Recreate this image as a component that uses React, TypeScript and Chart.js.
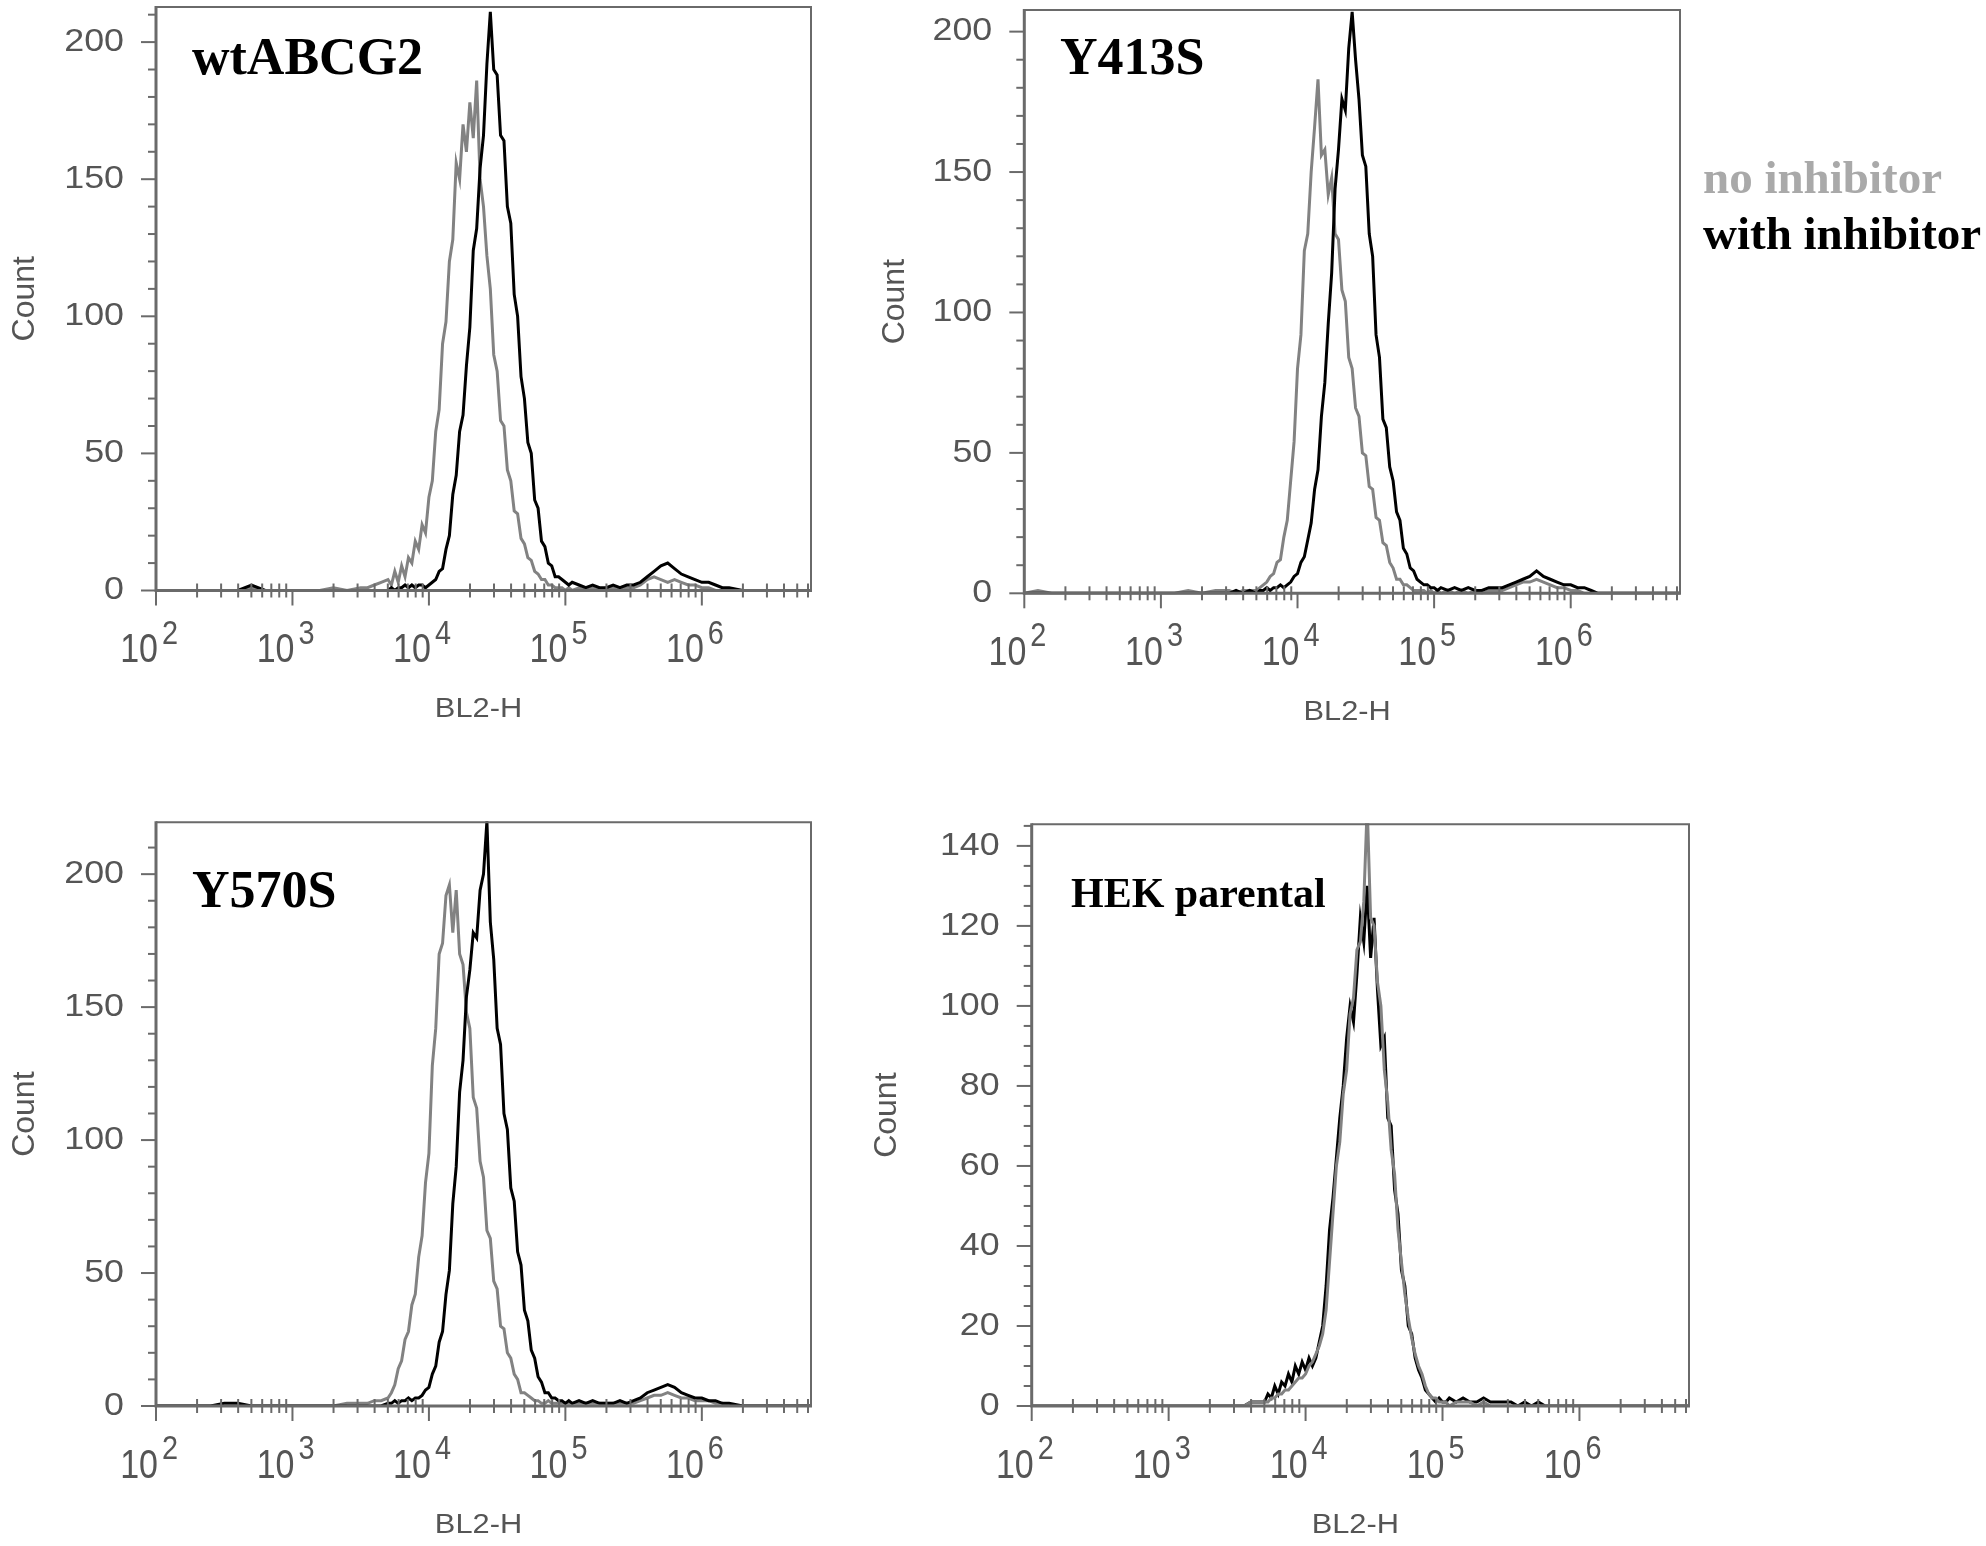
import React, { useEffect, useRef } from "react";
import { Chart, registerables } from "chart.js";

Chart.register(...registerables);

// ---------- DATA ----------
// histogram bin positions (log10 of BL2-H)
const BIN_EXP = [
  2.0, 2.1, 2.2, 2.3, 2.4, 2.5, 2.6, 2.7, 2.8, 2.9, 3.0, 3.1, 3.2, 3.3, 3.4, 3.5, 3.55, 3.6, 3.65,
  3.7, 3.725, 3.75, 3.775, 3.8, 3.825, 3.85, 3.875, 3.9, 3.925,
  3.95, 3.975, 4.0, 4.025, 4.05, 4.075, 4.1, 4.125, 4.15, 4.175,
  4.2, 4.225, 4.25, 4.275, 4.3, 4.325, 4.35, 4.375, 4.4, 4.425,
  4.45, 4.475, 4.5, 4.525, 4.55, 4.575, 4.6, 4.625, 4.65, 4.675,
  4.7, 4.725, 4.75, 4.775, 4.8, 4.825, 4.85, 4.875, 4.9, 4.925,
  4.95, 4.975, 5.0, 5.025, 5.05,
  5.1, 5.15, 5.2, 5.25, 5.3, 5.35, 5.4, 5.45, 5.5, 5.55,
  5.6, 5.65, 5.7, 5.75, 5.8, 5.85, 5.9, 5.95, 6.0, 6.05,
  6.1, 6.15, 6.2, 6.3, 6.4, 6.5, 6.6, 6.7, 6.8,
];

const WT_NO = [
  0, 0, 0, 0, 0, 0, 0, 1, 0, 0, 0, 0, 0, 1, 0, 1, 1, 2, 3,
  4, 2, 7, 3, 9, 5, 12, 10, 18, 15,
  24, 21, 34, 40, 58, 66, 90, 98, 120, 128,
  156, 150, 170, 160, 178, 165, 186, 150, 140, 122,
  110, 86, 80, 62, 60, 44, 40, 29, 28, 19,
  17, 12, 11, 7, 6, 4, 4, 2, 2, 1,
  1, 1, 0, 1, 0,
  1, 0, 1, 0, 1, 1, 0, 1, 1, 2,
  4, 5, 4, 3, 4, 3, 2, 2, 1, 1,
  0, 0, 0, 0, 0, 0, 0, 0, 0,
];
const WT_WITH = [
  0, 0, 0, 0, 0, 0, 0, 2, 0, 0, 0, 0, 0, 0, 0, 0, 0, 0, 0,
  0, 1, 0, 1, 1, 2, 1, 2, 1, 2,
  2, 1, 2, 3, 4, 7, 8, 15, 20, 35,
  42, 58, 64, 82, 96, 124, 132, 154, 166, 192,
  211, 190, 188, 166, 164, 140, 134, 108, 100, 78,
  70, 54, 50, 33, 30, 18, 16, 10, 9, 5,
  5, 4, 3, 2, 3,
  2, 1, 2, 1, 1, 2, 1, 2, 2, 3,
  5, 7, 9, 10, 8, 6, 5, 4, 3, 3,
  2, 1, 1, 0, 0, 0, 0, 0, 0,
];

const Y413S_NO = [
  0, 1, 0, 0, 0, 0, 0, 0, 0, 0, 0, 0, 1, 0, 1, 1, 0, 1, 1,
  1, 2, 3, 4, 6, 7, 11, 12, 20, 26,
  40, 54, 80, 92, 122, 128, 150, 166, 183, 156,
  158, 142, 148, 128, 126, 108, 104, 84, 80, 66,
  63, 50, 49, 38, 37, 27, 26, 18, 17, 11,
  9, 5, 5, 3, 3, 2, 1, 1, 1, 1,
  0, 1, 0, 1, 0,
  1, 0, 1, 0, 1, 0, 1, 1, 1, 2,
  3, 4, 4, 5, 4, 3, 2, 2, 1, 1,
  0, 0, 0, 0, 0, 0, 0, 0, 0,
];
const Y413S_WITH = [
  0, 0, 0, 0, 0, 0, 0, 0, 0, 0, 0, 0, 0, 0, 0, 0, 1, 0, 1,
  0, 1, 1, 2, 1, 2, 2, 3, 2, 3,
  4, 6, 7, 11, 13, 19, 25, 37, 44, 63,
  75, 96, 114, 144, 158, 176, 172, 194, 207, 190,
  176, 156, 152, 128, 120, 92, 84, 62, 59, 45,
  40, 29, 26, 16, 14, 9, 8, 5, 4, 3,
  3, 2, 2, 1, 2,
  1, 2, 1, 2, 1, 1, 2, 2, 2, 3,
  4, 5, 6, 8, 6, 5, 4, 3, 3, 2,
  2, 1, 0, 0, 0, 0, 0, 0, 0,
];

const Y570S_NO = [
  0, 0, 0, 0, 0, 0, 0, 0, 0, 0, 0, 0, 0, 0, 1, 1, 1, 2, 2,
  3, 5, 8, 14, 17, 25, 28, 38, 42, 56,
  64, 84, 95, 128, 142, 170, 174, 192, 196, 178,
  194, 170, 166, 148, 142, 116, 112, 92, 86, 66,
  63, 47, 44, 30, 29, 20, 18, 12, 10, 5,
  5, 4, 3, 2, 2, 1, 1, 2, 1, 1,
  1, 1, 1, 1, 1,
  1, 1, 1, 1, 1, 1, 1, 1, 1, 2,
  3, 4, 4, 5, 4, 3, 3, 2, 2, 2,
  1, 1, 0, 0, 0, 0, 0, 0, 0,
];
const Y570S_WITH = [
  0, 0, 0, 0, 0, 1, 1, 0, 0, 0, 0, 0, 0, 0, 0, 0, 0, 0, 0,
  1, 1, 2, 1, 2, 2, 3, 2, 3, 3,
  4, 6, 7, 12, 15, 24, 28, 42, 51, 76,
  90, 118, 130, 154, 164, 178, 176, 194, 200, 220,
  182, 168, 142, 136, 110, 104, 82, 77, 58, 53,
  36, 32, 21, 18, 11, 9, 5, 5, 3, 3,
  2, 2, 1, 2, 1,
  2, 1, 2, 1, 1, 1, 2, 1, 2, 3,
  5, 6, 7, 8, 7, 5, 4, 3, 3, 2,
  2, 1, 1, 0, 0, 0, 0, 0, 0,
];

const HEK_NO = [
  0, 0, 0, 0, 0, 0, 0, 0, 0, 0, 0, 0, 0, 0, 0, 0, 0, 1, 1,
  1, 1, 2, 2, 3, 3, 4, 4, 5, 6,
  7, 7, 8, 10, 11, 13, 15, 18, 24, 36,
  48, 60, 66, 78, 84, 98, 102, 114, 116, 126,
  150, 122, 120, 106, 100, 84, 76, 64, 58, 44,
  36, 28, 22, 17, 13, 10, 8, 5, 3, 2,
  2, 1, 1, 1, 0,
  1, 1, 1, 0, 1, 0, 0, 0, 0, 0,
  0, 0, 0, 0, 0, 0, 0, 0, 0, 0,
  0, 0, 0, 0, 0, 0, 0, 0, 0,
];
const HEK_WITH = [
  0, 0, 0, 0, 0, 0, 0, 0, 0, 0, 0, 0, 0, 0, 0, 0, 0, 1, 1,
  1, 3, 2, 5, 3, 6, 5, 8, 6, 10,
  8, 11, 9, 12, 10, 12, 16, 20, 30, 44,
  52, 62, 72, 80, 92, 100, 96, 108, 122, 116,
  130, 112, 122, 104, 90, 92, 72, 70, 54, 48,
  34, 30, 20, 18, 12, 9, 7, 4, 3, 2,
  1, 2, 1, 1, 2,
  1, 2, 1, 1, 2, 1, 1, 1, 1, 0,
  1, 0, 1, 0, 0, 0, 0, 0, 0, 0,
  0, 0, 0, 0, 0, 0, 0, 0, 0,
];

const X_TICK_EXP = [2, 3, 4, 5, 6];
const X_MAX_EXP = 6.8;
const Y_TICKS_200 = [0, 50, 100, 150, 200];
const Y_TICKS_140 = [0, 20, 40, 60, 80, 100, 120, 140];
const Y_LABEL = "Count";
const X_LABEL = "BL2-H";
const LEGEND_LABELS = ["no inhibitor", "with inhibitor"];

// ---------- STYLE ----------
const GRAY_LINE = "#828282";
const BLACK_LINE = "#000000";
const AXIS_COLOR = "#6a6a6a";
const TEXT_COLOR = "#555555";
const LEGEND_GRAY = "#a9a9a9";
const SANS = "'Liberation Sans', Arial, sans-serif";
const SERIF = "'Liberation Serif', 'Times New Roman', serif";

type Box = { left: number; top: number; width: number; height: number };
type Area = { left: number; top: number; right: number; bottom: number };

interface PanelDef {
  id: string;
  title: string;
  titleSize: number;
  titleX: number;
  titleY: number;
  canvas: Box;
  area: Area;
  yMax: number;
  yTicks: number[];
  yMinor: number;
  noInh: number[];
  withInh: number[];
  grayOnTop: boolean;
  countX: number;
  legend: boolean;
}

const PANELS: PanelDef[] = [
  {
    id: "p1", title: "wtABCG2", titleSize: 52, titleX: 192, titleY: 74,
    canvas: { left: 0, top: 0, width: 860, height: 760 },
    area: { left: 156, top: 7, right: 811, bottom: 590.5 },
    yMax: 212.8, yTicks: Y_TICKS_200, yMinor: 10,
    noInh: WT_NO, withInh: WT_WITH, grayOnTop: false, countX: 25, legend: false,
  },
  {
    id: "p2", title: "Y413S", titleSize: 52, titleX: 1060, titleY: 74,
    canvas: { left: 850, top: 0, width: 1136, height: 760 },
    area: { left: 1024.3, top: 10, right: 1680, bottom: 593.3 },
    yMax: 207.7, yTicks: Y_TICKS_200, yMinor: 10,
    noInh: Y413S_NO, withInh: Y413S_WITH, grayOnTop: false, countX: 895, legend: true,
  },
  {
    id: "p3", title: "Y570S", titleSize: 52, titleX: 192, titleY: 907,
    canvas: { left: 0, top: 770, width: 860, height: 776 },
    area: { left: 156, top: 822.3, right: 811, bottom: 1406 },
    yMax: 219.5, yTicks: Y_TICKS_200, yMinor: 10,
    noInh: Y570S_NO, withInh: Y570S_WITH, grayOnTop: false, countX: 25, legend: false,
  },
  {
    id: "p4", title: "HEK parental", titleSize: 42, titleX: 1071, titleY: 907,
    canvas: { left: 850, top: 770, width: 940, height: 776 },
    area: { left: 1031.7, top: 824.3, right: 1689, bottom: 1406 },
    yMax: 145.4, yTicks: Y_TICKS_140, yMinor: 5,
    noInh: HEK_NO, withInh: HEK_WITH, grayOnTop: true, countX: 887, legend: false,
  },
];

function drawText(
  ctx: CanvasRenderingContext2D, s: string, x: number, y: number, font: string,
  color: string, align: CanvasTextAlign, baseline: CanvasTextBaseline, sx = 1, rot = 0
) {
  ctx.save();
  ctx.translate(x, y);
  if (rot) ctx.rotate(rot);
  ctx.scale(sx, 1);
  ctx.font = font;
  ctx.fillStyle = color;
  ctx.textAlign = align;
  ctx.textBaseline = baseline;
  ctx.fillText(s, 0, 0);
  ctx.restore();
}

function makeDecor(def: PanelDef) {
  return {
    id: "decor_" + def.id,
    afterDatasetsDraw(chart: any) {
      const ctx: CanvasRenderingContext2D = chart.ctx;
      const a = chart.chartArea;
      const xs = chart.scales.x;
      const ys = chart.scales.y;
      const ox = def.canvas.left;
      const oy = def.canvas.top;
      ctx.save();
      ctx.lineCap = "butt";
      // frame
      ctx.strokeStyle = AXIS_COLOR;
      ctx.lineWidth = 2;
      ctx.beginPath();
      ctx.moveTo(a.left, a.top);
      ctx.lineTo(a.right, a.top);
      ctx.lineTo(a.right, a.bottom);
      ctx.stroke();
      ctx.lineWidth = 3;
      ctx.beginPath();
      ctx.moveTo(a.left, a.top - 1);
      ctx.lineTo(a.left, a.bottom);
      ctx.lineTo(a.right + 1, a.bottom);
      ctx.stroke();

      // y ticks
      ctx.lineWidth = 2;
      const major = def.yTicks[1] - def.yTicks[0];
      for (let v = 0; v <= def.yMax + 1e-6; v += def.yMinor) {
        const y = ys.getPixelForValue(v);
        const isMajor = Math.abs(v / major - Math.round(v / major)) < 1e-6;
        ctx.beginPath();
        ctx.moveTo(a.left - (isMajor ? 15 : 8), y);
        ctx.lineTo(a.left, y);
        ctx.stroke();
      }
      for (const t of def.yTicks) {
        const y = ys.getPixelForValue(t);
        drawText(ctx, String(t), a.left - 32, y, `32px ${SANS}`, TEXT_COLOR, "right", "middle", 1.12);
      }

      // x ticks
      for (const e of X_TICK_EXP) {
        const x = xs.getPixelForValue(Math.pow(10, e));
        ctx.beginPath();
        ctx.moveTo(x, a.bottom);
        ctx.lineTo(x, a.bottom + 15);
        ctx.stroke();
        for (let k = 2; k <= 9; k++) {
          const v = k * Math.pow(10, e);
          if (Math.log10(v) > X_MAX_EXP) break;
          const xm = xs.getPixelForValue(v);
          ctx.beginPath();
          ctx.moveTo(xm, a.bottom - 7);
          ctx.lineTo(xm, a.bottom + 7);
          ctx.stroke();
        }
        drawText(ctx, "10", x + 2, a.bottom + 71.5, `40px ${SANS}`, TEXT_COLOR, "right", "alphabetic", 0.85);
        drawText(ctx, String(e), x + 6, a.bottom + 53, `34px ${SANS}`, TEXT_COLOR, "left", "alphabetic", 0.85);
      }

      // axis titles
      const cx = (a.left + a.right) / 2 - 5;
      drawText(ctx, X_LABEL, cx, a.bottom + 126.5, `28px ${SANS}`, TEXT_COLOR, "center", "alphabetic", 1.1);
      const cy = (a.top + a.bottom) / 2;
      drawText(ctx, Y_LABEL, def.countX - ox, cy, `32px ${SANS}`, TEXT_COLOR, "center", "middle", 1, -Math.PI / 2);

      // panel title
      drawText(ctx, def.title, def.titleX - ox, def.titleY - oy, `bold ${def.titleSize}px ${SERIF}`, "#000", "left", "alphabetic");

      // legend
      if (def.legend) {
        drawText(ctx, LEGEND_LABELS[0], 1703 - ox, 193 - oy, `bold 47px ${SERIF}`, LEGEND_GRAY, "left", "alphabetic");
        drawText(ctx, LEGEND_LABELS[1], 1703 - ox, 249 - oy, `bold 47px ${SERIF}`, "#000", "left", "alphabetic");
      }
      ctx.restore();
    },
  };
}

function toPoints(vals: number[]) {
  return BIN_EXP.map((e, i) => ({ x: Math.pow(10, e), y: vals[i] }));
}

function Panel({ def }: { def: PanelDef }) {
  const ref = useRef<HTMLCanvasElement | null>(null);
  useEffect(() => {
    if (!ref.current) return;
    const gray = {
      label: LEGEND_LABELS[0],
      data: toPoints(def.noInh),
      borderColor: GRAY_LINE,
      borderWidth: 3,
      pointRadius: 0,
      tension: 0,
      clip: 1,
    };
    const black = {
      label: LEGEND_LABELS[1],
      data: toPoints(def.withInh),
      borderColor: BLACK_LINE,
      borderWidth: 3,
      pointRadius: 0,
      tension: 0,
      clip: 1,
    };
    // first dataset is drawn on top
    const datasets = def.grayOnTop ? [gray, black] : [black, gray];
    const c = def.canvas;
    const a = def.area;
    const chart = new Chart(ref.current, {
      type: "line",
      data: { datasets: datasets as any },
      options: {
        responsive: false,
        animation: false,
        events: [],
        layout: {
          padding: {
            left: a.left - c.left,
            top: a.top - c.top,
            right: c.left + c.width - a.right,
            bottom: c.top + c.height - a.bottom,
          },
        },
        plugins: { legend: { display: false }, tooltip: { enabled: false } },
        scales: {
          x: { type: "logarithmic", min: 100, max: Math.pow(10, X_MAX_EXP), display: false },
          y: { type: "linear", min: 0, max: def.yMax, display: false },
        },
      },
      plugins: [makeDecor(def)],
    });
    return () => chart.destroy();
  }, [def]);
  const c = def.canvas;
  return (
    <canvas
      ref={ref}
      width={c.width}
      height={c.height}
      style={{ position: "absolute", left: c.left, top: c.top, width: c.width, height: c.height }}
    />
  );
}

export default function App() {
  return (
    <div style={{ position: "absolute", left: 0, top: 0, width: 1986, height: 1546, background: "#fff", overflow: "hidden" }}>
      {PANELS.map((p) => (
        <Panel key={p.id} def={p} />
      ))}
    </div>
  );
}
